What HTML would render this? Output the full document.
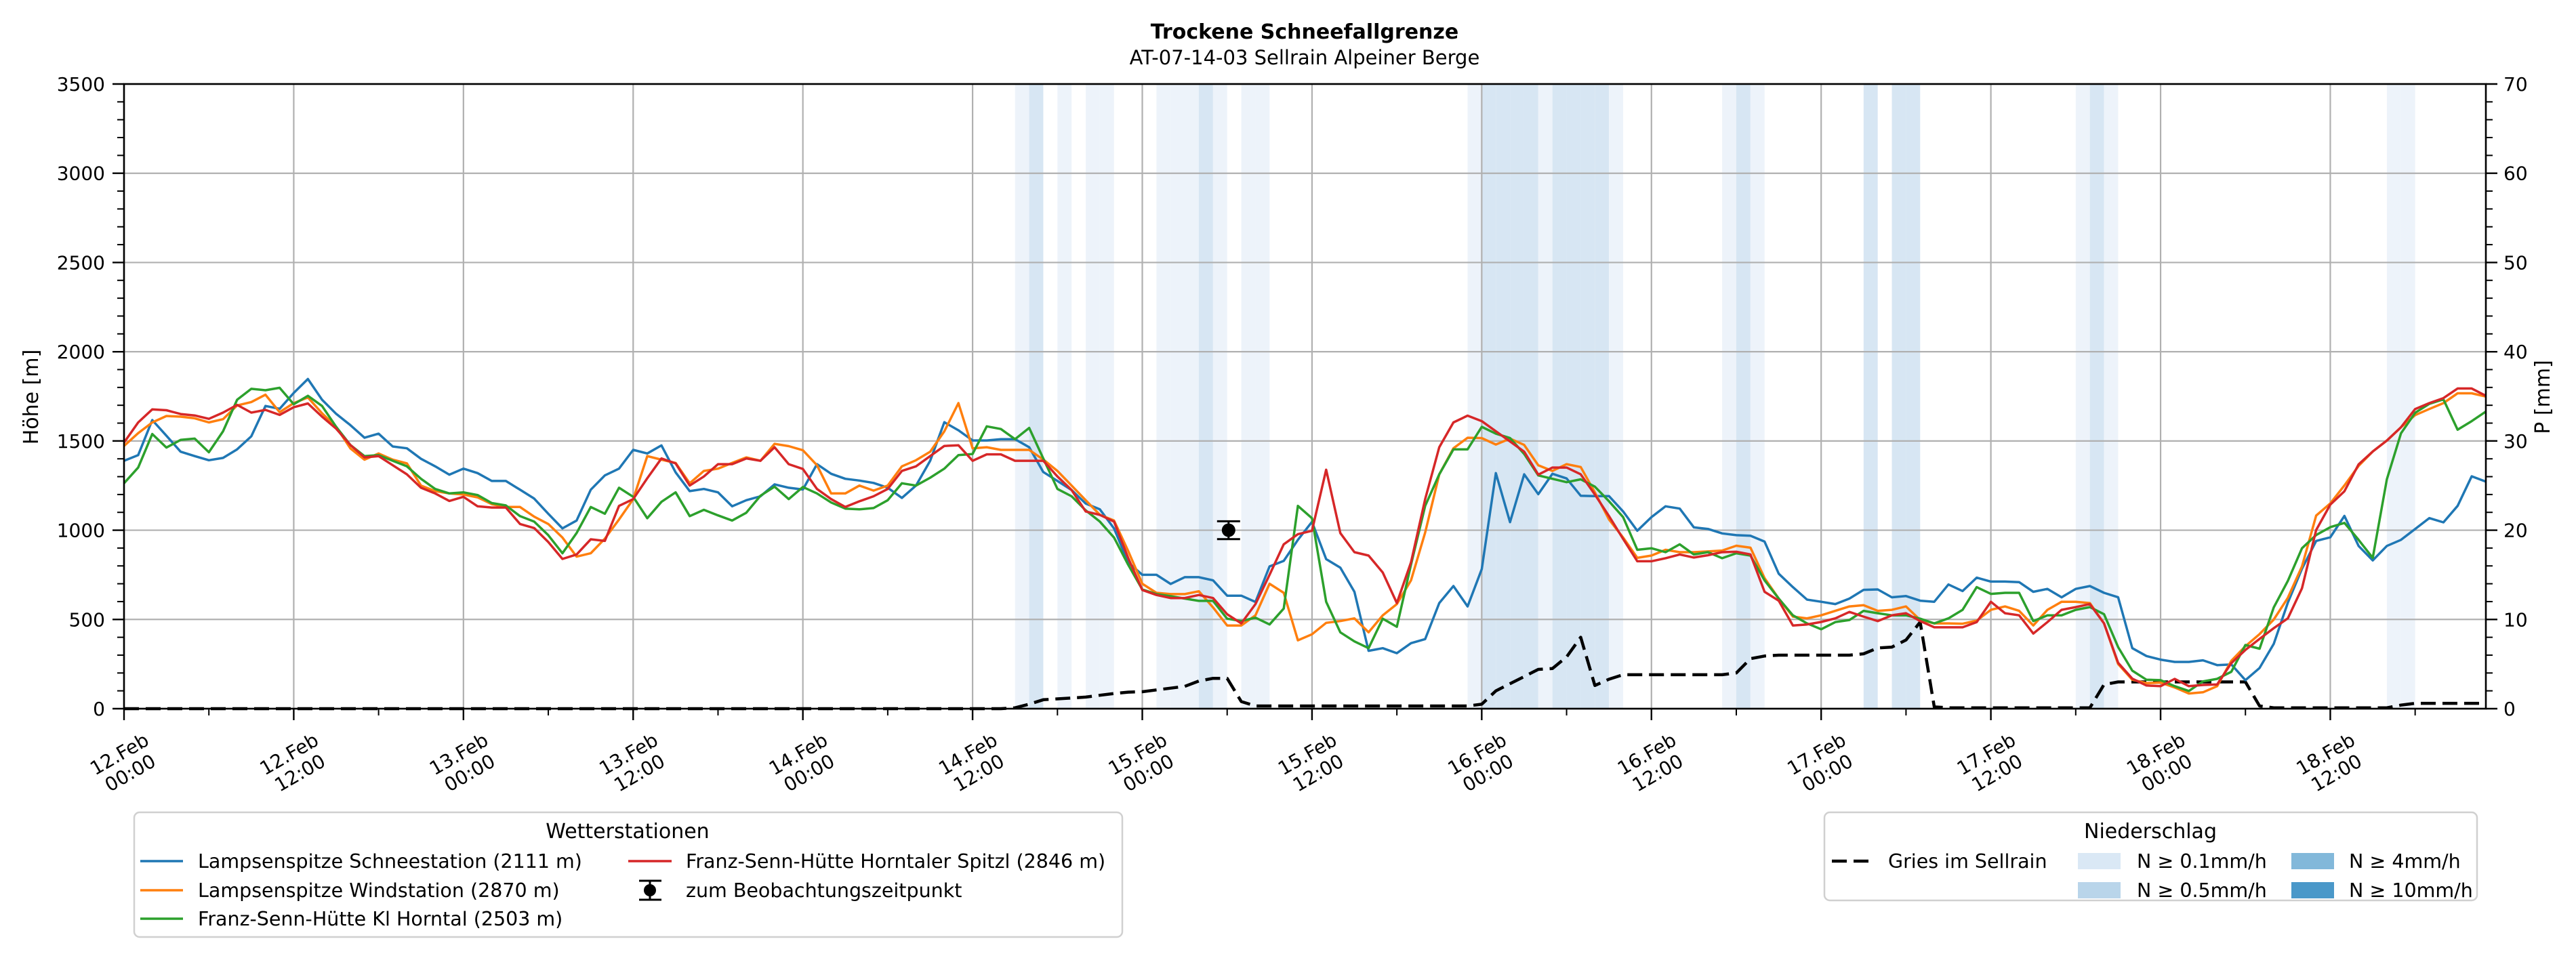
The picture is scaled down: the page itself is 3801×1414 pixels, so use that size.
<!DOCTYPE html>
<html><head><meta charset="utf-8">
<style>
html,body{margin:0;padding:0;background:#fff;}
svg{display:block;font-family:"DejaVu Sans","Liberation Sans",sans-serif;}
</style></head>
<body>
<svg id="chart" width="3801" height="1414" viewBox="0 0 3801 1414" xmlns="http://www.w3.org/2000/svg">
<text x="1925" y="57" text-anchor="middle" font-size="30" font-weight="bold">Trockene Schneefallgrenze</text>
<text x="1925" y="95" text-anchor="middle" font-size="29">AT-07-14-03 Sellrain Alpeiner Berge</text>
<g id="bands"></g>
<g id="grid"></g>
<g id="series"></g>
<g id="axes"></g>
<text transform="translate(56,586) rotate(-90)" text-anchor="middle" font-size="30">Höhe [m]</text>
<text transform="translate(3762,586) rotate(-90)" text-anchor="middle" font-size="30">P [mm]</text>

<g>
<rect x="198" y="1199" width="1458" height="184" rx="8" fill="#fff" stroke="#d0d0d0" stroke-width="2.5"/>
<text x="926" y="1237" text-anchor="middle" font-size="30">Wetterstationen</text>
<g><line x1="207" y1="1271" x2="270" y2="1271" stroke="#1f77b4" stroke-width="3.5"/><text x="292" y="1281" font-size="28.5">Lampsenspitze Schneestation (2111 m)</text></g>
<g><line x1="207" y1="1314" x2="270" y2="1314" stroke="#ff7f0e" stroke-width="3.5"/><text x="292" y="1324" font-size="28.5">Lampsenspitze Windstation (2870 m)</text></g>
<g><line x1="207" y1="1356" x2="270" y2="1356" stroke="#2ca02c" stroke-width="3.5"/><text x="292" y="1366" font-size="28.5">Franz-Senn-Hütte Kl Horntal (2503 m)</text></g>
<g><line x1="927" y1="1271" x2="991" y2="1271" stroke="#d62728" stroke-width="3.5"/><text x="1012" y="1281" font-size="28.5">Franz-Senn-Hütte Horntaler Spitzl (2846 m)</text></g>
<g><line x1="959" y1="1300" x2="959" y2="1328" stroke="#000" stroke-width="3"/><line x1="943" y1="1300" x2="976" y2="1300" stroke="#000" stroke-width="3"/><line x1="943" y1="1328" x2="976" y2="1328" stroke="#000" stroke-width="3"/><circle cx="959" cy="1314" r="9" fill="#000"/><text x="1012" y="1324" font-size="28.5">zum Beobachtungszeitpunkt</text></g>
</g>

<g>
<rect x="2692" y="1199" width="963" height="130" rx="8" fill="#fff" stroke="#d0d0d0" stroke-width="2.5"/>
<text x="3173" y="1237" text-anchor="middle" font-size="30">Niederschlag</text>
<g><line x1="2703" y1="1271" x2="2761" y2="1271" stroke="#000" stroke-width="4.5" stroke-dasharray="22,10"/><text x="2786" y="1281" font-size="28.5">Gries im Sellrain</text></g>
<g><rect x="3066" y="1259" width="63" height="24" fill="#dae8f5"/><text x="3153" y="1281" font-size="28.5">N ≥ 0.1mm/h</text></g>
<g><rect x="3066" y="1302" width="63" height="24" fill="#b9d5ea"/><text x="3153" y="1324" font-size="28.5">N ≥ 0.5mm/h</text></g>
<g><rect x="3381" y="1259" width="63" height="24" fill="#82b8da"/><text x="3466" y="1281" font-size="28.5">N ≥ 4mm/h</text></g>
<g><rect x="3381" y="1302" width="63" height="24" fill="#4a98c9"/><text x="3466" y="1324" font-size="28.5">N ≥ 10mm/h</text></g>
</g>
</svg>
<script>
const blue=[1389,1421,1617,1529,1440,1415,1392,1405,1453,1526,1696,1680,1769,1847,1731,1652,1589,1518,1541,1469,1459,1400,1358,1311,1345,
1320,1276,1276,1227,1177,1092,1010,1054,1227,1307,1345,1450,1430,1475,1324,1219,1231,1212,1134,1168,1190,1257,1238,1228,
1370,1316,1288,1278,1265,1238,1181,1250,1389,1605,1560,1503,1503,1510,1510,1465,1326,1276,1225,1149,1117,1010,820,750,
750,699,737,737,719,633,633,598,797,828,946,1047,838,790,655,324,339,311,367,390,592,687,573,782,
1320,1045,1313,1202,1316,1290,1193,1191,1191,1105,997,1073,1134,1121,1016,1007,982,972,969,936,756,681,611,599,
586,617,666,668,624,631,605,599,696,659,734,712,712,709,655,671,624,671,687,649,624,339,295,275,
262,262,271,244,248,160,228,363,594,784,940,960,1080,912,831,912,946,1007,1068,1044,1136,1302,1272];
const orange=[1472,1544,1604,1640,1636,1627,1604,1622,1699,1718,1759,1661,1712,1744,1655,1579,1459,1395,1430,1395,1374,1250,1219,1206,1200,
1184,1146,1130,1130,1076,1035,959,852,871,953,1060,1174,1415,1395,1377,1263,1332,1345,1377,1408,1389,1484,1471,1448,
1364,1206,1206,1250,1222,1250,1358,1392,1440,1554,1712,1459,1465,1450,1450,1450,1396,1332,1250,1168,1086,1054,884,700,
649,642,642,658,567,466,466,523,700,649,383,417,481,491,506,428,523,586,719,987,1313,1459,1518,1516,
1480,1513,1478,1364,1332,1370,1354,1212,1060,959,845,858,890,877,877,881,886,913,902,731,617,516,506,523,
548,573,580,548,554,573,497,478,478,476,493,554,573,548,466,554,599,599,592,478,250,162,143,146,
119,85,92,126,268,350,418,499,621,797,1082,1150,1251,1360,1441,1502,1577,1645,1679,1712,1767,1767,1749];
const green=[1263,1351,1539,1463,1506,1513,1437,1554,1731,1792,1784,1798,1706,1753,1696,1579,1478,1415,1421,1389,1358,1288,1231,1206,1212,
1197,1152,1139,1079,1048,972,871,984,1130,1092,1238,1187,1067,1159,1212,1079,1114,1083,1054,1098,1193,1244,1174,1242,
1206,1155,1121,1117,1124,1168,1263,1250,1294,1345,1421,1427,1582,1567,1510,1573,1402,1231,1190,1111,1048,959,807,668,
642,630,617,604,604,504,491,510,472,561,1136,1067,599,428,377,339,504,459,807,1136,1313,1453,1453,1579,
1541,1516,1427,1307,1288,1269,1285,1244,1162,1073,890,899,877,921,864,877,843,871,858,719,617,523,478,445,
485,497,548,535,523,523,504,478,506,554,681,643,649,649,491,523,523,554,569,529,345,213,162,160,
126,99,153,167,207,357,336,567,716,899,973,1017,1041,946,845,1285,1543,1658,1708,1733,1563,1611,1665];
const red=[1491,1604,1677,1672,1651,1643,1624,1659,1702,1659,1674,1646,1689,1710,1636,1569,1478,1408,1415,1364,1313,1238,1206,1164,1187,
1134,1127,1127,1035,1012,934,839,864,949,940,1136,1174,1291,1402,1374,1250,1301,1370,1370,1402,1389,1465,1370,1343,
1231,1174,1130,1162,1190,1231,1332,1358,1415,1472,1476,1389,1425,1425,1389,1389,1389,1301,1225,1105,1086,1048,845,665,
637,620,620,637,620,529,478,586,750,921,978,997,1339,984,877,858,763,592,820,1174,1465,1604,1642,1611,
1554,1497,1440,1311,1351,1351,1313,1200,1079,951,826,826,843,864,847,860,877,879,864,655,605,466,472,486,
506,542,516,491,523,535,491,456,456,456,485,599,535,523,421,485,554,569,586,478,257,168,130,126,
167,126,133,136,255,329,391,451,506,675,1001,1143,1218,1369,1441,1502,1577,1679,1712,1740,1794,1794,1753];
const gries=[0,0,0,0,0,0,0,0,0,0,0,0,0,0,0,0,0,0,0,0,0,0,0,0,0,0,0,0,0,0,0,0,0,0,0,0,0,0,0,0,0,0,0,0,0,0,0,0,0,0,0,0,0,0,0,0,0,0,0,0,0,0,0,
0.1,0.5,1.0,1.1,1.2,1.3,1.5,1.7,1.85,1.9,2.1,2.3,2.5,3.1,3.4,3.4,0.8,
0.3,0.3,0.3,0.3,0.3,0.3,0.3,0.3,0.3,0.3,0.3,0.3,0.3,0.3,0.3,0.3,
0.5,2.0,2.8,3.6,4.4,4.5,5.8,8.0,2.6,3.3,3.8,3.8,3.8,3.8,3.8,3.8,3.8,3.8,4.0,5.6,5.9,6.0,6.0,6.0,6.0,6.0,6.0,
6.15,6.8,6.9,7.7,9.7,0.2,0.1,0.1,0.1,0.1,0.1,0.1,0.1,0.1,0.1,0.1,0.1,2.7,
3.0,3.0,3.0,3.0,3.0,3.0,3.0,3.0,3.0,3.0,0.3,0.1,0.1,0.1,0.1,0.1,0.1,0.1,0.1,0.1,0.4,0.6,0.6,0.6,0.6,0.6,0.6];
const bandHours=[63,64,66,68,69,73,74,75,76,77,79,80,95,96,97,98,99,100,101,102,103,104,105,113,114,115,123,125,126,138,139,140,160,161];
const bandLevels=[1,2,1,1,1,1,1,1,2,1,1,1,1,2,2,2,2,1,2,2,2,2,1,1,2,1,2,2,2,1,2,1,1,1];
const xTickDays=["12.Feb","12.Feb","13.Feb","13.Feb","14.Feb","14.Feb","15.Feb","15.Feb","16.Feb","16.Feb","17.Feb","17.Feb","18.Feb","18.Feb"];
const xTickTimes=["00:00","12:00","00:00","12:00","00:00","12:00","00:00","12:00","00:00","12:00","00:00","12:00","00:00","12:00"];
const yTicks=[0,500,1000,1500,2000,2500,3000,3500];
const y2Ticks=[0,10,20,30,40,50,60,70];
const obsHour=78.1, obsValue=1000, obsErr=50;

const L=183,R=3668,T=124,B=1046,HMAX=167;
const X=h=>L+h*(R-L)/HMAX;
const Y=v=>B-v*(B-T)/3500;
const YP=m=>B-m*(B-T)/70;
const NS="http://www.w3.org/2000/svg";
function mk(tag,attrs,parent){const e=document.createElementNS(NS,tag);for(const k in attrs)e.setAttribute(k,attrs[k]);parent.appendChild(e);return e;}
const gB=document.getElementById('bands'),gG=document.getElementById('grid'),gS=document.getElementById('series'),gA=document.getElementById('axes');

bandHours.forEach((h,i)=>{
  const r=mk('rect',{x:X(h),y:T,width:X(h+1)-X(h),height:B-T,fill:bandLevels[i]===2?'#d7e6f3':'#edf3fa'},gB);
  
  
});
yTicks.forEach(v=>{
  const l=mk('line',{x1:L,x2:R,y1:Y(v),y2:Y(v),stroke:'#b0b0b0','stroke-width':2.2},gG);
  
  
});
xTickDays.forEach((d,i)=>{
  const x=X(i*12);
  const l=mk('line',{x1:x,x2:x,y1:T,y2:B,stroke:'#b0b0b0','stroke-width':2.2},gG);
  
  
});

function poly(arr,scale,color,name,extra){
  const pts=arr.map((v,i)=>X(i).toFixed(1)+','+scale(v).toFixed(1)).join(' ');
  const p=mk('polyline',Object.assign({points:pts,fill:'none',stroke:color,'stroke-width':3.5,'stroke-linejoin':'round'},extra||{}),gS);
  
  
}
poly(gries,YP,'#000','gries-line',{'stroke-width':4.5,'stroke-dasharray':'22,10'});
poly(blue,Y,'#1f77b4','line-schneestation');
poly(orange,Y,'#ff7f0e','line-windstation');
poly(green,Y,'#2ca02c','line-kl-horntal');
poly(red,Y,'#d62728','line-horntaler-spitzl');

const ob=mk('g',{},gS);


const ox=X(obsHour);
mk('line',{x1:ox,x2:ox,y1:Y(obsValue+obsErr),y2:Y(obsValue-obsErr),stroke:'#000','stroke-width':3},ob);
mk('line',{x1:ox-17,x2:ox+17,y1:Y(obsValue+obsErr),y2:Y(obsValue+obsErr),stroke:'#000','stroke-width':3},ob);
mk('line',{x1:ox-17,x2:ox+17,y1:Y(obsValue-obsErr),y2:Y(obsValue-obsErr),stroke:'#000','stroke-width':3},ob);
mk('circle',{cx:ox,cy:Y(obsValue),r:10,fill:'#000'},ob);

const frame=mk('rect',{x:L,y:T,width:R-L,height:B-T,fill:'none',stroke:'#000','stroke-width':2.6},gA);


for(let v=0;v<=3500;v+=100){
  const maj=v%500===0;
  const t=mk('line',{x1:L-(maj?17:10),x2:L,y1:Y(v),y2:Y(v),stroke:'#000','stroke-width':maj?2.4:2},gA);
  
  
}
yTicks.forEach(v=>{
  const t=mk('text',{x:L-28,y:Y(v)+10,'text-anchor':'end','font-size':28},gA);
  t.textContent=v;
  
  
});
for(let m=0;m<=70;m+=2){
  const maj=m%10===0;
  const t=mk('line',{x1:R,x2:R+(maj?17:10),y1:YP(m),y2:YP(m),stroke:'#000','stroke-width':maj?2.4:2},gA);
  
  
}
y2Ticks.forEach(m=>{
  const t=mk('text',{x:R+26,y:YP(m)+10,'font-size':28},gA);
  t.textContent=m;
  
  
});
for(let h=0;h<=HMAX;h+=6){
  const maj=h%12===0;
  const t=mk('line',{x1:X(h),x2:X(h),y1:B,y2:B+(maj?17:10),stroke:'#000','stroke-width':maj?2.4:2},gA);
  
  
}
xTickDays.forEach((d,i)=>{
  const x=X(i*12);
  const g=mk('text',{transform:`translate(${x.toFixed(1)},1125) rotate(-30)`,'text-anchor':'middle','font-size':28},gA);
  
  
  const a=mk('tspan',{x:0,y:-4},g);a.textContent=d;
  const b=mk('tspan',{x:0,y:28},g);b.textContent=xTickTimes[i];
});
</script>
</body></html>
